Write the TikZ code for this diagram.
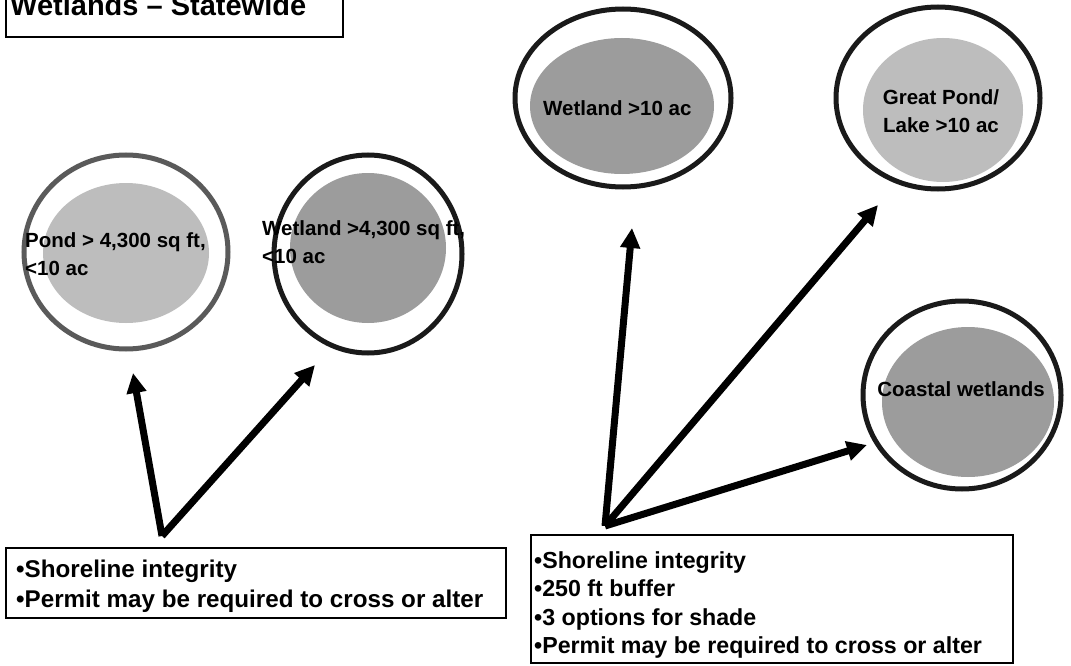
\documentclass[tikz,border=0pt]{standalone}
\usepackage{fontspec}
\setmainfont{Liberation Sans}
\usetikzlibrary{arrows.meta}
\definecolor{ringdark}{HTML}{1A1A1A}
\definecolor{ringgray}{HTML}{5A5A5A}
\definecolor{filllight}{HTML}{BDBDBD}
\definecolor{filldark}{HTML}{9C9C9C}
\tikzset{
  ctext/.style={font=\bfseries\fontsize{20.5}{28}\selectfont, inner sep=0pt, align=left},
  boxframe/.style={draw=black, line width=1.6pt, anchor=north west, inner sep=0pt},
  bigarrow/.style={line width=7pt, -{Triangle[length=20pt,width=19pt]}, draw=black}
}
\begin{document}
\begin{tikzpicture}[x=1pt,y=-1pt]
\useasboundingbox (0,0) rectangle (1071,666);
\fill[white] (0,0) rectangle (1071,666);

% title
\draw[line width=1.6pt] (6,-10) rectangle (343,37);
\node[anchor=base west, font=\bfseries\fontsize{29}{32}\selectfont, inner sep=0pt] (title) at (10,16) {Wetlands -- Statewide};

% Pond circle
\draw[draw=ringgray, line width=5pt, fill=white] (126,252) ellipse [x radius=102, y radius=97];
\fill[filllight] (126,253) ellipse [x radius=83, y radius=70];
\node[ctext, anchor=west] (pondtext) at (25,254) {Pond > 4,300 sq ft,\\<10 ac};

% Wetland >4300
\draw[draw=ringdark, line width=5pt, fill=white] (368,254) ellipse [x radius=94, y radius=99];
\fill[filldark] (368,248) ellipse [x radius=78, y radius=75];
\node[ctext, anchor=west] (wet1text) at (262,242) {Wetland >4,300 sq ft,\\<10 ac};

% Wetland >10 ac
\draw[draw=ringdark, line width=5pt, fill=white] (623,98) ellipse [x radius=108, y radius=89];
\fill[filldark] (622,106) ellipse [x radius=92, y radius=68];
\node[ctext, anchor=west] (wet2text) at (543,108) {Wetland >10 ac};

% Great Pond
\draw[draw=ringdark, line width=5pt, fill=white] (938,98) ellipse [x radius=102, y radius=91];
\fill[filllight] (943,110) ellipse [x radius=80, y radius=72];
\node[ctext, align=center] (gptext) at (941,111) {Great Pond/\\Lake >10 ac};

% Coastal
\draw[draw=ringdark, line width=5pt, fill=white] (962,395) ellipse [x radius=99, y radius=94];
\fill[filldark] (968,402) ellipse [x radius=86, y radius=75];
\node[ctext] (coasttext) at (961,389) {Coastal wetlands};

% boxes
\node[boxframe, minimum width=500pt, minimum height=70pt] (box1) at (5,547) {};
\node[anchor=north west, font=\bfseries\fontsize{24.2}{30}\selectfont, align=left, inner sep=0pt] (box1text) at (16,560) {\textbullet Shoreline integrity\\\textbullet Permit may be required to cross or alter};

\node[boxframe, minimum width=482pt, minimum height=128pt] (box2) at (530,534) {};
\node[anchor=north west, font=\bfseries\fontsize{23.2}{28.5}\selectfont, align=left, inner sep=0pt] (box2text) at (534,551) {\textbullet Shoreline integrity\\\textbullet 250 ft buffer\\\textbullet 3 options for shade\\\textbullet Permit may be required to cross or alter};

% arrows
\coordinate (o1) at (162,536);
\coordinate (t1) at (133,373);
\coordinate (t2) at (315,365);
\draw[bigarrow] (o1) -- (t1);
\draw[bigarrow] (o1) -- (t2);

\coordinate (o2) at (605,526);
\coordinate (t3) at (632,228);
\coordinate (t4) at (878,205);
\coordinate (t5) at (867,445);
\draw[bigarrow] (o2) -- (t3);
\draw[bigarrow] (o2) -- (t4);
\draw[bigarrow] (o2) -- (t5);
\end{tikzpicture}
\end{document}
